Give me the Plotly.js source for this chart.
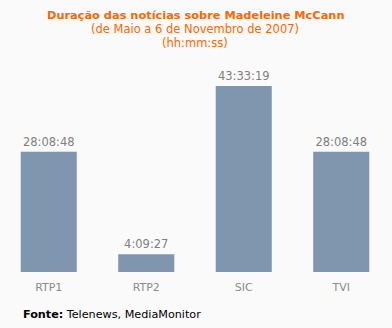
<!DOCTYPE html>
<html><head><meta charset="utf-8">
<script src="https://cdn.plot.ly/plotly-3.0.1.min.js"></script>
<style>html,body{margin:0;padding:0;background:#fafafa;}#chart{width:392px;height:328px;}</style>
</head><body><div id="chart"></div>
<script>
const categories = ["RTP1", "RTP2", "SIC", "TVI"];
const durationLabels = ["28:08:48", "4:09:27", "43:33:19", "28:08:48"];

function toSeconds(s) {
  const p = s.split(":").map(Number);
  return p[0] * 3600 + p[1] * 60 + p[2];
}
const seconds = durationLabels.map(toSeconds);

const font = "DejaVu Sans, Verdana, sans-serif";
const trace = {
  type: "bar",
  x: categories,
  y: seconds,
  text: durationLabels,
  textposition: "outside",
  textfont: {family: font, size: 11.5, color: "#808080"},
  cliponaxis: false,
  marker: {color: "#8096ae"},
  width: 0.575,
  hoverinfo: "none"
};
const layout = {
  width: 392, height: 328,
  margin: {l: 0, r: 2, t: 60, b: 56},
  paper_bgcolor: "#fafafa",
  plot_bgcolor: "#fafafa",
  showlegend: false,
  bargap: 0.425,
  xaxis: {
    showgrid: false, zeroline: false, showline: false, ticks: "",
    ticklabelstandoff: 7,
    tickfont: {family: font, size: 11, color: "#8a8a8a"},
    automargin: false
  },
  yaxis: {
    range: [0, 178720], visible: false, showgrid: false, zeroline: false, fixedrange: true
  },
  annotations: [
    {text: "<b>Duração das notícias sobre Madeleine McCann</b>", xref: "paper", yref: "paper", x: 0.5, y: 1,
     xanchor: "center", yanchor: "middle", showarrow: false, font: {family: font, size: 11.35, color: "#ff6600"}},
    {text: "(de Maio a 6 de Novembro de 2007)", xref: "paper", yref: "paper", x: 0.5, y: 1, showarrow: false,
     xanchor: "center", yanchor: "middle", font: {family: font, size: 11.5, color: "#ff6600"}},
    {text: "(hh:mm:ss)", xref: "paper", yref: "paper", x: 0.5, y: 1, showarrow: false,
     xanchor: "center", yanchor: "middle", font: {family: font, size: 11.5, color: "#ff6600"}},
    {text: "<b>Fonte:</b> Telenews, MediaMonitor", xref: "paper", yref: "paper", x: 0, y: 0, showarrow: false,
     xanchor: "left", yanchor: "middle", font: {family: font, size: 11.2, color: "#000000"}}
  ]
};
// position annotations in pixels relative to the plot area
const plotH = 328 - 60 - 56;
function yPix(py) { return (328 - 56 - py) / plotH; }
layout.annotations[0].y = yPix(15);
layout.annotations[1].y = yPix(29);
layout.annotations[2].y = yPix(43);
layout.annotations[3].y = yPix(314);
layout.annotations[3].x = 21 / 390;
Plotly.newPlot("chart", [trace], layout, {staticPlot: true});
</script></body></html>
